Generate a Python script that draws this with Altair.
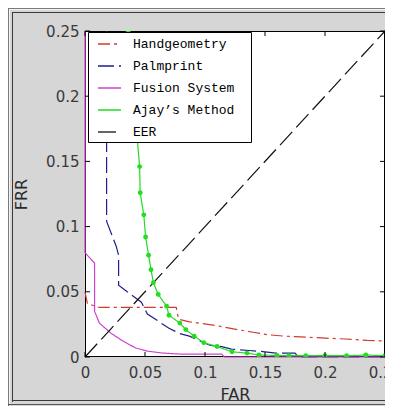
import altair as alt
import pandas as pd

# ---------------- data ----------------
series_names = ["Handgeometry", "Palmprint", "Fusion System", "Ajay\u2019s Method", "EER"]
series_colors = ["#d23a30", "#1f1f8c", "#cc44cc", "#22dd22", "#111111"]
series_dashes = [[12, 4, 3, 4], [16, 5], [1, 0], [1, 0], [18, 6]]

hand_far = [0.0, 0.002, 0.012, 0.076, 0.078, 0.087, 0.11, 0.127, 0.14, 0.153, 0.166, 0.18, 0.197, 0.217, 0.235, 0.25]
hand_frr = [0.05, 0.041, 0.038, 0.038, 0.029, 0.027, 0.024, 0.021, 0.019, 0.017, 0.016, 0.0154, 0.0146, 0.0138, 0.0127, 0.0123]

palm_far = [0.018, 0.018, 0.026, 0.028, 0.028, 0.047, 0.052, 0.070, 0.079, 0.087, 0.104, 0.114, 0.122, 0.137, 0.150, 0.159, 0.175, 0.178, 0.25]
palm_frr = [0.25, 0.104, 0.085, 0.078, 0.055, 0.042, 0.033, 0.022, 0.018, 0.016, 0.009, 0.008, 0.006, 0.005, 0.004, 0.003, 0.003, 0.0, 0.0]

fus_far = [0.0, 0.0, 0.008, 0.008, 0.012, 0.022, 0.032, 0.042, 0.052, 0.065, 0.08, 0.1, 0.114, 0.116, 0.25]
fus_frr = [0.25, 0.08, 0.072, 0.035, 0.026, 0.018, 0.012, 0.007, 0.0045, 0.003, 0.0022, 0.0022, 0.0022, 0.0, 0.0]

aj_far = [0.036, 0.0455, 0.046, 0.049, 0.0505, 0.053, 0.055, 0.057, 0.061, 0.068, 0.070, 0.079, 0.084, 0.091,
          0.099, 0.110, 0.1225, 0.135, 0.145, 0.16, 0.17, 0.184, 0.2, 0.218, 0.234, 0.25]
aj_frr = [0.25, 0.146, 0.126, 0.109, 0.092, 0.078, 0.067, 0.057, 0.048, 0.039, 0.032, 0.026, 0.021, 0.016,
          0.011, 0.008, 0.004, 0.003, 0.0015, 0.0012, 0.001, 0.001, 0.001, 0.001, 0.0015, 0.001]

eer_far = [0.0, 0.25]
eer_frr = [0.0, 0.25]

x_ticks = [0, 0.05, 0.1, 0.15, 0.2, 0.25]
y_ticks = [0, 0.05, 0.1, 0.15, 0.2, 0.25]

# ---------------- tables ----------------
rows = []
for name, fars, frrs in zip(series_names,
                            [hand_far, palm_far, fus_far, aj_far, eer_far],
                            [hand_frr, palm_frr, fus_frr, aj_frr, eer_frr]):
    for i, (a, b) in enumerate(zip(fars, frrs)):
        rows.append({"series": name, "FAR": a, "FRR": b, "order": i})
df = pd.DataFrame(rows)
df_aj = pd.DataFrame({"FAR": aj_far, "FRR": aj_frr})
df_xt = pd.DataFrame({"FAR": x_ticks})
df_yt = pd.DataFrame({"FRR": y_ticks})

W, H = 300, 326
xscale = alt.Scale(domain=[0, 0.25], nice=False, zero=False)
yscale = alt.Scale(domain=[0, 0.25], nice=False, zero=False)

axis_common = dict(format="~g", ticks=False, tickSize=0, domain=False, grid=False,
                   labelFlush=False, labelFont="DejaVu Sans", labelFontSize=15, labelColor="#3a3a3a",
                   titleFont="DejaVu Sans", titleFontSize=16, titleFontWeight="normal", titleColor="#2a2a2a")
axis_x = alt.Axis(values=x_ticks, title="FAR", labelPadding=8, titlePadding=6, **axis_common)
axis_y = alt.Axis(values=y_ticks, title="FRR", labelPadding=6, titlePadding=16, **axis_common)

# blank (non-whitespace) trailing glyph widens the legend box to the original's size
legend = alt.Legend(
    title=None, orient="none", legendX=3, legendY=1,
    fillColor="white", strokeColor="black", cornerRadius=0, padding=3,
    symbolType="M-0.25,0H2.625", symbolSize=256, symbolStrokeWidth=1.3,
    labelFont="Liberation Mono", labelFontSize=13, labelColor="black",
    labelOffset=24, rowPadding=6, labelLimit=300,
    labelExpr="datum.label + '\u2009\u2800'",
)

X = alt.X("FAR:Q", scale=xscale, axis=axis_x)
Y = alt.Y("FRR:Q", scale=yscale, axis=axis_y)

# plot box (drawn under the curves, as in the original)
one = pd.DataFrame({"k": [0]})
def hline(y, x1, x2, c):
    return alt.Chart(one).mark_rule(color=c, strokeWidth=1).encode(
        y=alt.value(y), x=alt.value(x1), x2=alt.value(x2))
def vline(x, y1, y2, c):
    return alt.Chart(one).mark_rule(color=c, strokeWidth=1).encode(
        x=alt.value(x), y=alt.value(y1), y2=alt.value(y2))

box = [vline(0.5, 0, H, "black"), vline(W - 0.5, 0, H, "black"),
       hline(0.5, 0, W, "black"), hline(H - 0.5, 0, W, "black")]

lines = alt.Chart(df).mark_line(strokeWidth=1.2).encode(
    x=X, y=Y,
    order="order:Q",
    color=alt.Color("series:N", scale=alt.Scale(domain=series_names, range=series_colors), legend=legend),
    strokeDash=alt.StrokeDash("series:N", scale=alt.Scale(domain=series_names, range=series_dashes), legend=legend),
)

dots = alt.Chart(df_aj).mark_circle(size=24, color="#22dd22", opacity=1, clip=True).encode(x=X, y=Y)

tick_style = dict(color="black", strokeWidth=1)
xt_bottom = alt.Chart(df_xt).mark_rule(**tick_style).encode(x=X, y=alt.value(H), y2=alt.value(H - 5))
xt_top = alt.Chart(df_xt).mark_rule(**tick_style).encode(x=X, y=alt.value(0), y2=alt.value(5))
yt_left = alt.Chart(df_yt).mark_rule(**tick_style).encode(y=Y, x=alt.value(0), x2=alt.value(5))
yt_right = alt.Chart(df_yt).mark_rule(**tick_style).encode(y=Y, x=alt.value(W), x2=alt.value(W - 5))

# decorative sunken window frame
frame = [
    vline(-76.5, -23, 375, "#7a7a7a"), vline(-75.5, -22, 374, "#f4f4f4"), vline(-72.5, -19, 371, "#3a3a3a"),
    hline(-22.5, -77, 310, "#7a7a7a"), hline(-21.5, -76, 310, "#f4f4f4"), hline(-18.5, -73, 310, "#3a3a3a"),
    hline(369.5, -73, 310, "#3a3a3a"), hline(373.5, -77, 310, "#555555"),
]

chart = alt.layer(
    *box, lines, dots, xt_bottom, xt_top, yt_left, yt_right, *frame
).properties(
    width=W, height=H,
    autosize=alt.AutoSizeParams(type="none"),
    padding={"left": 77, "top": 23, "right": 0, "bottom": 49},
    background="#d6d6d6",
).configure_view(
    fill="white", stroke=None,
)

chart.save("out.html", embed_options={"renderer": "svg", "actions": False})
